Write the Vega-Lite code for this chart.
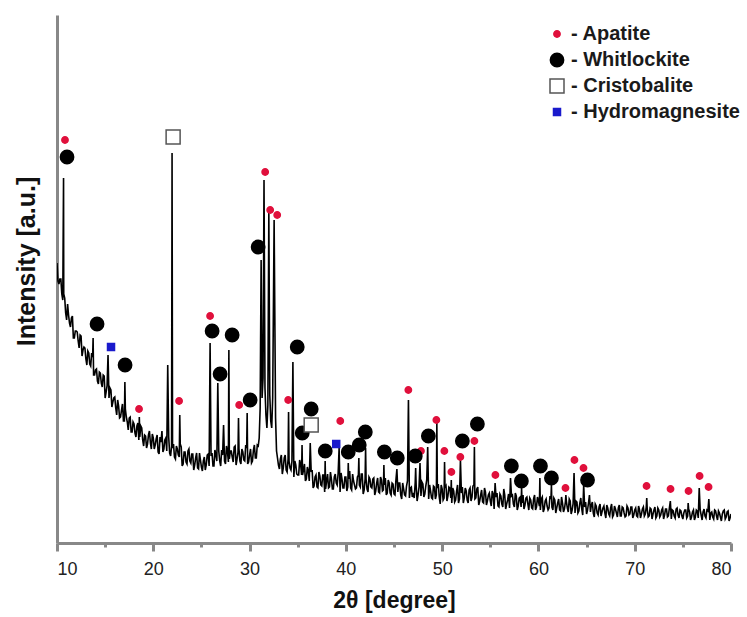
{
"$schema": "https://vega.github.io/schema/vega-lite/v6.json",
"width": 674, "height": 528,
"autosize": {"type": "none"},
"padding": {"left": 57, "top": 15, "right": 16, "bottom": 74},
"background": "white",
"config": {"view": {"stroke": null}, "font": "Liberation Sans", "axis": {"grid": false}},
"datasets": {
"trace": [
{"t":10,"i":280},{"t":10.2,"i":259},{"t":10.4,"i":264},{"t":10.6,"i":243},{"t":10.68,"i":365},{"t":10.8,"i":245},{"t":11,"i":223},{"t":11.2,"i":228},{"t":11.4,"i":216},{"t":11.6,"i":227},{"t":11.8,"i":205},{"t":12,"i":212},
{"t":12.2,"i":202},{"t":12.4,"i":208},{"t":12.6,"i":187},{"t":12.8,"i":196},{"t":13,"i":184},{"t":13.2,"i":192},{"t":13.4,"i":179},{"t":13.6,"i":190},{"t":13.75,"i":205},{"t":13.8,"i":168},{"t":14,"i":173},
{"t":14.2,"i":162},{"t":14.4,"i":171},{"t":14.6,"i":160},{"t":14.8,"i":168},{"t":15,"i":145},{"t":15.2,"i":157},{"t":15.3,"i":188},{"t":15.4,"i":145},{"t":15.6,"i":153},{"t":15.8,"i":141},{"t":16,"i":146},
{"t":16.2,"i":128},{"t":16.4,"i":137},{"t":16.6,"i":126},{"t":16.8,"i":139},{"t":17,"i":122},{"t":17.05,"i":161},{"t":17.2,"i":126},{"t":17.4,"i":113},{"t":17.6,"i":126},{"t":17.8,"i":111},{"t":18,"i":119},
{"t":18.2,"i":106},{"t":18.4,"i":120},{"t":18.55,"i":126},{"t":18.6,"i":106},{"t":18.8,"i":115},{"t":19,"i":97},{"t":19.2,"i":107},{"t":19.4,"i":99},{"t":19.6,"i":112},{"t":19.8,"i":94},{"t":20,"i":105},
{"t":20.2,"i":98},{"t":20.4,"i":108},{"t":20.6,"i":89},{"t":20.8,"i":101},{"t":20.9,"i":112},{"t":21,"i":91},{"t":21.2,"i":103},{"t":21.4,"i":92},{"t":21.5,"i":178},{"t":21.6,"i":106},{"t":21.8,"i":87},{"t":21.95,"i":390},{"t":22,"i":95},
{"t":22.2,"i":86},{"t":22.4,"i":97},{"t":22.6,"i":88},{"t":22.75,"i":128},{"t":22.8,"i":99},{"t":23,"i":77},{"t":23.2,"i":91},{"t":23.4,"i":81},{"t":23.6,"i":92},{"t":23.8,"i":82},{"t":24,"i":89},
{"t":24.2,"i":73},{"t":24.4,"i":85},{"t":24.6,"i":75},{"t":24.8,"i":90},{"t":25,"i":76},{"t":25.2,"i":82},{"t":25.4,"i":73},{"t":25.6,"i":88},{"t":25.8,"i":77},{"t":25.9,"i":200},{"t":26,"i":87},
{"t":26.2,"i":77},{"t":26.4,"i":93},{"t":26.6,"i":82},{"t":26.7,"i":160},{"t":26.8,"i":92},{"t":27,"i":77},{"t":27.2,"i":88},{"t":27.3,"i":118},{"t":27.4,"i":82},{"t":27.6,"i":97},{"t":27.8,"i":81},{"t":27.85,"i":193},{"t":28,"i":92},
{"t":28.2,"i":86},{"t":28.4,"i":96},{"t":28.6,"i":78},{"t":28.8,"i":91},{"t":28.85,"i":125},{"t":29,"i":82},{"t":29.2,"i":94},{"t":29.4,"i":83},{"t":29.6,"i":98},{"t":29.75,"i":130},{"t":29.8,"i":79},{"t":30,"i":88},
{"t":30.2,"i":80},{"t":30.4,"i":93},{"t":30.6,"i":85},{"t":30.8,"i":98},
{"t":31,"i":105},{"t":31.1,"i":135},{"t":31.2,"i":283},{"t":31.3,"i":145},{"t":31.4,"i":165},{"t":31.5,"i":363},{"t":31.6,"i":155},{"t":31.7,"i":128},{"t":31.8,"i":115},{"t":31.9,"i":138},{"t":32,"i":330},{"t":32.1,"i":148},{"t":32.2,"i":122},{"t":32.3,"i":115},{"t":32.4,"i":145},{"t":32.55,"i":323},{"t":32.7,"i":125},{"t":32.8,"i":92},{"t":33,"i":78},
{"t":33.2,"i":84},{"t":33.4,"i":69},{"t":33.6,"i":85},{"t":33.8,"i":73},{"t":34,"i":84},{"t":34.05,"i":131},{"t":34.2,"i":75},{"t":34.4,"i":82},{"t":34.5,"i":181},{"t":34.6,"i":66},{"t":34.8,"i":78},{"t":35,"i":68},
{"t":35.2,"i":83},{"t":35.4,"i":68},{"t":35.45,"i":98},{"t":35.6,"i":73},{"t":35.8,"i":62},{"t":36,"i":76},{"t":36.2,"i":62},{"t":36.3,"i":100},{"t":36.4,"i":71},{"t":36.6,"i":55},{"t":36.8,"i":66},{"t":37,"i":56},
{"t":37.2,"i":71},{"t":37.4,"i":58},{"t":37.6,"i":68},{"t":37.8,"i":51},{"t":37.85,"i":82},{"t":38,"i":62},{"t":38.2,"i":55},{"t":38.4,"i":71},{"t":38.6,"i":54},{"t":38.8,"i":66},{"t":39,"i":60},
{"t":39.2,"i":70},{"t":39.3,"i":95},{"t":39.4,"i":51},{"t":39.6,"i":64},{"t":39.8,"i":55},{"t":40,"i":66},{"t":40.2,"i":56},{"t":40.25,"i":80},{"t":40.4,"i":72},{"t":40.6,"i":53},{"t":40.8,"i":62},{"t":41,"i":54},
{"t":41.2,"i":66},{"t":41.35,"i":85},{"t":41.4,"i":58},{"t":41.6,"i":69},{"t":41.8,"i":49},{"t":42,"i":64},{"t":42.05,"i":95},{"t":42.2,"i":54},{"t":42.4,"i":66},{"t":42.6,"i":56},{"t":42.8,"i":64},{"t":43,"i":48},
{"t":43.2,"i":60},{"t":43.4,"i":51},{"t":43.6,"i":66},{"t":43.8,"i":52},{"t":43.95,"i":78},{"t":44,"i":58},{"t":44.2,"i":48},{"t":44.4,"i":63},{"t":44.6,"i":50},{"t":44.8,"i":60},{"t":45,"i":49},
{"t":45.2,"i":63},{"t":45.3,"i":74},{"t":45.4,"i":51},{"t":45.6,"i":60},{"t":45.8,"i":44},{"t":46,"i":54},{"t":46.2,"i":47},{"t":46.4,"i":62},{"t":46.5,"i":143},{"t":46.6,"i":45},{"t":46.8,"i":56},{"t":47,"i":50},
{"t":47.2,"i":60},{"t":47.25,"i":75},{"t":47.4,"i":42},{"t":47.6,"i":56},{"t":47.7,"i":80},{"t":47.8,"i":47},{"t":48,"i":59},{"t":48.2,"i":49},{"t":48.4,"i":63},{"t":48.5,"i":96},{"t":48.6,"i":44},{"t":48.8,"i":52},{"t":49,"i":44},
{"t":49.2,"i":56},{"t":49.4,"i":48},{"t":49.45,"i":120},{"t":49.6,"i":59},{"t":49.8,"i":39},{"t":50,"i":54},{"t":50.2,"i":45},{"t":50.25,"i":81},{"t":50.4,"i":57},{"t":50.6,"i":47},{"t":50.8,"i":55},{"t":50.95,"i":63},{"t":51,"i":40},
{"t":51.2,"i":52},{"t":51.4,"i":43},{"t":51.6,"i":58},{"t":51.8,"i":44},{"t":51.9,"i":83},{"t":52,"i":50},{"t":52.2,"i":40},{"t":52.4,"i":55},{"t":52.6,"i":43},{"t":52.8,"i":53},{"t":53,"i":42},
{"t":53.2,"i":57},{"t":53.35,"i":96},{"t":53.4,"i":44},{"t":53.6,"i":54},{"t":53.8,"i":38},{"t":54,"i":48},{"t":54.2,"i":41},{"t":54.4,"i":55},{"t":54.6,"i":38},{"t":54.8,"i":48},{"t":55,"i":42},
{"t":55.2,"i":52},{"t":55.4,"i":34},{"t":55.5,"i":60},{"t":55.6,"i":46},{"t":55.8,"i":37},{"t":56,"i":49},{"t":56.2,"i":39},{"t":56.4,"i":54},{"t":56.6,"i":34},{"t":56.8,"i":43},{"t":57,"i":35},{"t":57.1,"i":65},
{"t":57.2,"i":47},{"t":57.4,"i":39},{"t":57.6,"i":50},{"t":57.8,"i":33},{"t":58,"i":45},{"t":58.2,"i":36},{"t":58.25,"i":55},{"t":58.4,"i":48},{"t":58.6,"i":38},{"t":58.8,"i":46},{"t":59,"i":33},
{"t":59.2,"i":43},{"t":59.4,"i":34},{"t":59.6,"i":48},{"t":59.8,"i":36},{"t":60,"i":42},{"t":60.15,"i":65},{"t":60.2,"i":33},{"t":60.4,"i":46},{"t":60.6,"i":34},{"t":60.8,"i":44},{"t":61,"i":33},
{"t":61.2,"i":47},{"t":61.35,"i":58},{"t":61.4,"i":36},{"t":61.6,"i":45},{"t":61.8,"i":30},{"t":62,"i":40},{"t":62.2,"i":33},{"t":62.4,"i":46},{"t":62.6,"i":31},{"t":62.8,"i":41},{"t":62.85,"i":48},{"t":63,"i":35},
{"t":63.2,"i":44},{"t":63.4,"i":29},{"t":63.6,"i":39},{"t":63.7,"i":70},{"t":63.8,"i":30},{"t":64,"i":41},{"t":64.2,"i":32},{"t":64.4,"i":45},{"t":64.6,"i":28},{"t":64.7,"i":58},{"t":64.8,"i":36},{"t":65,"i":29},
{"t":65.2,"i":40},{"t":65.3,"i":48},{"t":65.4,"i":31},{"t":65.6,"i":41},{"t":65.8,"i":26},{"t":66,"i":37},{"t":66.2,"i":28},{"t":66.4,"i":39},{"t":66.6,"i":31},{"t":66.8,"i":37},{"t":67,"i":25},
{"t":67.2,"i":35},{"t":67.4,"i":27},{"t":67.6,"i":39},{"t":67.8,"i":28},{"t":68,"i":34},{"t":68.2,"i":26},{"t":68.4,"i":38},{"t":68.6,"i":27},{"t":68.8,"i":35},{"t":69,"i":26},
{"t":69.2,"i":37},{"t":69.4,"i":28},{"t":69.6,"i":36},{"t":69.8,"i":25},{"t":70,"i":33},{"t":70.2,"i":27},{"t":70.4,"i":37},{"t":70.6,"i":25},{"t":70.8,"i":34},{"t":71,"i":27},
{"t":71.2,"i":36},{"t":71.25,"i":45},{"t":71.4,"i":26},{"t":71.6,"i":35},{"t":71.8,"i":24},{"t":72,"i":33},{"t":72.2,"i":25},{"t":72.4,"i":35},{"t":72.6,"i":26},{"t":72.8,"i":33},{"t":73,"i":24},
{"t":73.2,"i":34},{"t":73.4,"i":26},{"t":73.6,"i":35},{"t":73.7,"i":42},{"t":73.8,"i":24},{"t":74,"i":32},{"t":74.2,"i":25},{"t":74.4,"i":35},{"t":74.6,"i":25},{"t":74.8,"i":32},{"t":75,"i":24},
{"t":75.2,"i":33},{"t":75.4,"i":25},{"t":75.55,"i":40},{"t":75.6,"i":34},{"t":75.8,"i":23},{"t":76,"i":31},{"t":76.2,"i":23},{"t":76.4,"i":33},{"t":76.6,"i":25},{"t":76.7,"i":55},{"t":76.8,"i":33},{"t":77,"i":23},
{"t":77.2,"i":34},{"t":77.4,"i":25},{"t":77.6,"i":32},{"t":77.7,"i":44},{"t":77.8,"i":23},{"t":78,"i":31},{"t":78.2,"i":24},{"t":78.4,"i":32},{"t":78.6,"i":23},{"t":78.8,"i":30},{"t":79,"i":22},
{"t":79.2,"i":32},{"t":79.4,"i":24},{"t":79.6,"i":31},{"t":79.8,"i":22},{"t":80,"i":29},
{"t":10.1,"i":262},{"t":10.3,"i":264},{"t":10.5,"i":249},{"t":10.7,"i":249},{"t":10.9,"i":230},{"t":11.1,"i":239},{"t":11.3,"i":220},{"t":11.5,"i":225},{"t":11.7,"i":205},{"t":11.9,"i":212},
{"t":12.1,"i":211},{"t":12.3,"i":195},{"t":12.5,"i":207},{"t":12.7,"i":193},{"t":12.9,"i":195},{"t":13.1,"i":178},{"t":13.3,"i":190},{"t":13.5,"i":177},{"t":13.7,"i":186},{"t":13.9,"i":168},
{"t":14.1,"i":174},{"t":14.3,"i":159},{"t":14.5,"i":170},{"t":14.7,"i":156},{"t":14.9,"i":167},{"t":15.1,"i":151},{"t":15.5,"i":155},{"t":15.7,"i":136},{"t":15.9,"i":145},
{"t":16.1,"i":135},{"t":16.3,"i":143},{"t":16.5,"i":125},{"t":16.7,"i":133},{"t":16.9,"i":122},{"t":17.1,"i":134},{"t":17.3,"i":121},{"t":17.5,"i":125},{"t":17.7,"i":111},{"t":17.9,"i":121},
{"t":18.1,"i":110},{"t":18.3,"i":117},{"t":18.5,"i":103},{"t":18.7,"i":117},{"t":18.9,"i":103},{"t":19.1,"i":108},{"t":19.3,"i":95},{"t":19.5,"i":108},{"t":19.7,"i":100},{"t":19.9,"i":109},
{"t":20.1,"i":94},{"t":20.3,"i":104},{"t":20.5,"i":91},{"t":20.7,"i":106},{"t":21.1,"i":94},{"t":21.3,"i":105},{"t":21.7,"i":90},{"t":21.9,"i":97},
{"t":22.1,"i":99},{"t":22.3,"i":84},{"t":22.5,"i":94},{"t":22.7,"i":86},{"t":22.9,"i":96},{"t":23.1,"i":79},{"t":23.3,"i":91},{"t":23.5,"i":79},{"t":23.7,"i":94},{"t":23.9,"i":80},
{"t":24.1,"i":89},{"t":24.3,"i":78},{"t":24.5,"i":90},{"t":24.7,"i":74},{"t":24.9,"i":83},{"t":25.1,"i":72},{"t":25.3,"i":86},{"t":25.5,"i":78},{"t":25.7,"i":89},
{"t":26.1,"i":90},{"t":26.3,"i":77},{"t":26.5,"i":88},{"t":26.9,"i":82},{"t":27.1,"i":93},{"t":27.5,"i":79},{"t":27.7,"i":92},{"t":27.9,"i":84},
{"t":28.1,"i":92},{"t":28.3,"i":81},{"t":28.5,"i":97},{"t":28.7,"i":84},{"t":28.9,"i":94},{"t":29.1,"i":79},{"t":29.3,"i":91},{"t":29.5,"i":82},{"t":29.7,"i":95},{"t":29.9,"i":81},
{"t":30.1,"i":94},{"t":30.3,"i":82},{"t":30.5,"i":98},{"t":30.7,"i":85},{"t":30.9,"i":97},{"t":32.9,"i":85},
{"t":33.1,"i":74},{"t":33.3,"i":88},{"t":33.5,"i":75},{"t":33.7,"i":88},{"t":33.9,"i":71},{"t":34.1,"i":82},{"t":34.3,"i":73},{"t":34.7,"i":82},{"t":34.9,"i":69},
{"t":35.1,"i":68},{"t":35.3,"i":79},{"t":35.5,"i":68},{"t":35.7,"i":79},{"t":35.9,"i":64},{"t":36.1,"i":72},{"t":36.5,"i":73},{"t":36.7,"i":57},{"t":36.9,"i":68},
{"t":37.1,"i":55},{"t":37.3,"i":67},{"t":37.5,"i":57},{"t":37.7,"i":68},{"t":37.9,"i":54},{"t":38.1,"i":69},{"t":38.3,"i":56},{"t":38.5,"i":64},{"t":38.7,"i":54},{"t":38.9,"i":69},
{"t":39.1,"i":58},{"t":39.5,"i":70},{"t":39.7,"i":55},{"t":39.9,"i":66},{"t":40.1,"i":52},{"t":40.3,"i":64},{"t":40.5,"i":55},{"t":40.7,"i":69},{"t":40.9,"i":58},
{"t":41.1,"i":55},{"t":41.3,"i":68},{"t":41.5,"i":56},{"t":41.7,"i":69},{"t":41.9,"i":53},{"t":42.1,"i":64},{"t":42.3,"i":51},{"t":42.5,"i":64},{"t":42.7,"i":55},{"t":42.9,"i":65},
{"t":43.1,"i":52},{"t":43.3,"i":65},{"t":43.5,"i":50},{"t":43.7,"i":63},{"t":43.9,"i":53},{"t":44.1,"i":65},{"t":44.3,"i":50},{"t":44.5,"i":60},{"t":44.7,"i":48},{"t":44.9,"i":59},
{"t":45.1,"i":48},{"t":45.5,"i":60},{"t":45.7,"i":48},{"t":45.9,"i":60},{"t":46.1,"i":48},{"t":46.3,"i":57},{"t":46.7,"i":55},{"t":46.9,"i":46},
{"t":47.1,"i":45},{"t":47.3,"i":58},{"t":47.5,"i":48},{"t":47.9,"i":61},{"t":48.1,"i":46},{"t":48.3,"i":57},{"t":48.7,"i":58},{"t":48.9,"i":45},
{"t":49.1,"i":57},{"t":49.3,"i":44},{"t":49.5,"i":55},{"t":49.7,"i":46},{"t":49.9,"i":58},{"t":50.1,"i":43},{"t":50.3,"i":55},{"t":50.5,"i":42},{"t":50.7,"i":56},{"t":50.9,"i":45},
{"t":51.1,"i":55},{"t":51.3,"i":41},{"t":51.5,"i":52},{"t":51.7,"i":40},{"t":52.1,"i":56},{"t":52.3,"i":45},{"t":52.5,"i":52},{"t":52.7,"i":40},{"t":52.9,"i":55},
{"t":53.1,"i":46},{"t":53.3,"i":58},{"t":53.5,"i":45},{"t":53.7,"i":56},{"t":53.9,"i":42},{"t":54.1,"i":53},{"t":54.3,"i":40},{"t":54.5,"i":51},{"t":54.7,"i":42},{"t":54.9,"i":50},
{"t":55.1,"i":37},{"t":55.3,"i":49},{"t":55.7,"i":50},{"t":55.9,"i":36},{"t":56.1,"i":47},{"t":56.3,"i":36},{"t":56.5,"i":48},{"t":56.7,"i":39},{"t":56.9,"i":49},
{"t":57.3,"i":48},{"t":57.5,"i":36},{"t":57.7,"i":47},{"t":57.9,"i":37},{"t":58.1,"i":46},{"t":58.3,"i":40},{"t":58.5,"i":34},{"t":58.7,"i":45},{"t":58.9,"i":39},
{"t":59.1,"i":45},{"t":59.3,"i":35},{"t":59.5,"i":44},{"t":59.7,"i":33},{"t":59.9,"i":46},{"t":60.1,"i":37},{"t":60.3,"i":44},{"t":60.5,"i":31},{"t":60.7,"i":42},{"t":60.9,"i":37},
{"t":61.1,"i":35},{"t":61.3,"i":44},{"t":61.5,"i":33},{"t":61.7,"i":43},{"t":61.9,"i":35},{"t":62.1,"i":44},{"t":62.3,"i":32},{"t":62.5,"i":40},{"t":62.7,"i":34},{"t":62.9,"i":42},
{"t":63.1,"i":31},{"t":63.3,"i":42},{"t":63.5,"i":33},{"t":63.9,"i":42},{"t":64.1,"i":30},{"t":64.3,"i":40},{"t":64.5,"i":34},{"t":64.9,"i":41},
{"t":65.1,"i":33},{"t":65.5,"i":38},{"t":65.7,"i":30},{"t":65.9,"i":39},{"t":66.1,"i":30},{"t":66.3,"i":36},{"t":66.5,"i":27},{"t":66.7,"i":35},{"t":66.9,"i":30},
{"t":67.1,"i":38},{"t":67.3,"i":29},{"t":67.5,"i":35},{"t":67.7,"i":26},{"t":67.9,"i":37},{"t":68.1,"i":30},{"t":68.3,"i":35},{"t":68.5,"i":27},{"t":68.7,"i":36},{"t":68.9,"i":30},
{"t":69.1,"i":27},{"t":69.3,"i":35},{"t":69.5,"i":29},{"t":69.7,"i":36},{"t":69.9,"i":28},{"t":70.1,"i":35},{"t":70.3,"i":26},{"t":70.5,"i":33},{"t":70.7,"i":29},{"t":70.9,"i":36},
{"t":71.1,"i":29},{"t":71.3,"i":34},{"t":71.5,"i":27},{"t":71.7,"i":34},{"t":71.9,"i":29},{"t":72.1,"i":36},{"t":72.3,"i":27},{"t":72.5,"i":33},{"t":72.7,"i":28},{"t":72.9,"i":35},
{"t":73.1,"i":28},{"t":73.3,"i":34},{"t":73.5,"i":27},{"t":73.9,"i":33},{"t":74.1,"i":27},{"t":74.3,"i":34},{"t":74.5,"i":28},{"t":74.7,"i":33},{"t":74.9,"i":27},
{"t":75.1,"i":30},{"t":75.3,"i":33},{"t":75.5,"i":27},{"t":75.7,"i":31},{"t":75.9,"i":26},{"t":76.1,"i":33},{"t":76.3,"i":26},{"t":76.5,"i":32},{"t":76.9,"i":28},
{"t":77.1,"i":31},{"t":77.3,"i":27},{"t":77.5,"i":33},{"t":77.9,"i":30},{"t":78.1,"i":26},{"t":78.3,"i":33},{"t":78.5,"i":27},{"t":78.7,"i":32},{"t":78.9,"i":26},
{"t":79.1,"i":29},{"t":79.3,"i":33},{"t":79.5,"i":26},{"t":79.7,"i":32},{"t":79.9,"i":25}
],
"marks": [
{"p":"Apatite","t":10.83,"i":403},{"p":"Apatite","t":18.52,"i":134},{"p":"Apatite","t":22.68,"i":142},{"p":"Apatite","t":25.9,"i":227},{"p":"Apatite","t":28.92,"i":138},{"p":"Apatite","t":31.62,"i":371},{"p":"Apatite","t":32.14,"i":333},{"p":"Apatite","t":32.87,"i":328},{"p":"Apatite","t":34.01,"i":143},{"p":"Apatite","t":39.42,"i":122},{"p":"Apatite","t":46.49,"i":153},{"p":"Apatite","t":47.8,"i":92},{"p":"Apatite","t":49.4,"i":123},{"p":"Apatite","t":50.23,"i":92},{"p":"Apatite","t":50.96,"i":71},{"p":"Apatite","t":51.89,"i":86},{"p":"Apatite","t":53.35,"i":102},{"p":"Apatite","t":55.53,"i":68},{"p":"Apatite","t":62.81,"i":55},{"p":"Apatite","t":63.74,"i":83},{"p":"Apatite","t":64.68,"i":75},{"p":"Apatite","t":71.23,"i":57},{"p":"Apatite","t":73.72,"i":54},{"p":"Apatite","t":75.59,"i":52},{"p":"Apatite","t":76.74,"i":67},{"p":"Apatite","t":77.67,"i":56},
{"p":"Whitlockite","t":11.04,"i":386},{"p":"Whitlockite","t":14.16,"i":219},{"p":"Whitlockite","t":17.07,"i":178},{"p":"Whitlockite","t":26.11,"i":212},{"p":"Whitlockite","t":26.94,"i":169},{"p":"Whitlockite","t":28.19,"i":208},{"p":"Whitlockite","t":30.06,"i":143},{"p":"Whitlockite","t":30.89,"i":296},{"p":"Whitlockite","t":34.95,"i":196},{"p":"Whitlockite","t":35.47,"i":110},{"p":"Whitlockite","t":36.4,"i":134},{"p":"Whitlockite","t":37.86,"i":92},{"p":"Whitlockite","t":40.25,"i":91},{"p":"Whitlockite","t":41.39,"i":98},{"p":"Whitlockite","t":42.02,"i":111},{"p":"Whitlockite","t":44.0,"i":91},{"p":"Whitlockite","t":45.34,"i":85},{"p":"Whitlockite","t":47.21,"i":87},{"p":"Whitlockite","t":48.57,"i":107},{"p":"Whitlockite","t":52.1,"i":102},{"p":"Whitlockite","t":53.66,"i":119},{"p":"Whitlockite","t":57.19,"i":77},{"p":"Whitlockite","t":58.23,"i":62},{"p":"Whitlockite","t":60.21,"i":77},{"p":"Whitlockite","t":61.35,"i":65},{"p":"Whitlockite","t":65.1,"i":63},
{"p":"Cristobalite","t":22.06,"i":406},{"p":"Cristobalite","t":36.4,"i":118},
{"p":"Hydromagnesite","t":15.61,"i":196},{"p":"Hydromagnesite","t":39.0,"i":99}
]
},
"layer": [
{
"data": {"name": "trace"},
"mark": {"type": "line", "color": "#000000", "strokeWidth": 1.6, "clip": true},
"encoding": {
"x": {"field": "t", "type": "quantitative",
"scale": {"domain": [10, 80], "nice": false, "zero": false},
"axis": {"values": [10,15,20,25,30,35,40,45,50,55,60,65,70,75,80],
"labelExpr": "datum.value % 10 === 0 ? datum.label : ''",
"tickSize": {"condition": {"test": "datum.value % 10 === 0", "value": 8}, "value": 4},
"tickWidth": 3, "tickColor": "#888888", "domainColor": "#888888", "domainWidth": 3,
"labelFont": "Liberation Sans", "labelFontSize": 18, "labelColor": "#222222", "labelPadding": 9,
"title": "2θ [degree]", "titleFont": "Liberation Sans", "titleFontSize": 23, "titleFontWeight": "bold", "titleColor": "#111111", "titlePadding": 11}},
"y": {"field": "i", "type": "quantitative",
"scale": {"domain": [0, 528], "nice": false},
"axis": {"labels": false, "ticks": false, "domainColor": "#888888", "domainWidth": 3,
"title": "Intensity [a.u.]", "titleFont": "Liberation Sans", "titleFontSize": 25, "titleFontWeight": "bold", "titleColor": "#111111",
"titleX": -31, "titleY": 246, "titleAngle": -90, "titleAlign": "center", "titleBaseline": "middle"}},
"order": {"field": "t", "type": "quantitative"}
}
},
{
"data": {"name": "marks"},
"mark": {"type": "point", "opacity": 1, "strokeWidth": 1.5},
"encoding": {
"x": {"field": "t", "type": "quantitative"},
"y": {"field": "i", "type": "quantitative"},
"shape": {"field": "p", "type": "nominal",
"scale": {"domain": ["Apatite","Whitlockite","Cristobalite","Hydromagnesite"], "range": ["circle","circle","square","square"]},
"legend": {"title": null, "orient": "none", "legendX": 490, "legendY": 9, "labelExpr": "'- ' + datum.label", "labelFont": "Liberation Sans", "labelFontSize": 20, "labelFontWeight": "bold", "labelColor": "#1a1a1a", "labelOffset": 4, "labelLimit": 400, "rowPadding": 6, "padding": 0, "symbolStrokeWidth": 1.5}},
"fill": {"field": "p", "type": "nominal",
"scale": {"domain": ["Apatite","Whitlockite","Cristobalite","Hydromagnesite"], "range": ["#e0103c","#000000","#ffffff","#1a1acc"]},
"legend": {"title": null, "orient": "none", "legendX": 490, "legendY": 9, "labelExpr": "'- ' + datum.label", "labelFont": "Liberation Sans", "labelFontSize": 20, "labelFontWeight": "bold", "labelColor": "#1a1a1a", "labelOffset": 4, "labelLimit": 400, "rowPadding": 6, "padding": 0, "symbolStrokeWidth": 1.5}},
"stroke": {"field": "p", "type": "nominal",
"scale": {"domain": ["Apatite","Whitlockite","Cristobalite","Hydromagnesite"], "range": ["#e0103c","#000000","#555555","#1a1acc"]},
"legend": {"title": null, "orient": "none", "legendX": 490, "legendY": 9, "labelExpr": "'- ' + datum.label", "labelFont": "Liberation Sans", "labelFontSize": 20, "labelFontWeight": "bold", "labelColor": "#1a1a1a", "labelOffset": 4, "labelLimit": 400, "rowPadding": 6, "padding": 0, "symbolStrokeWidth": 1.5}},
"size": {"field": "p", "type": "nominal",
"scale": {"type": "ordinal", "domain": ["Apatite","Whitlockite","Cristobalite","Hydromagnesite"], "range": [40, 177, 196, 49]},
"legend": {"title": null, "orient": "none", "legendX": 490, "legendY": 9, "labelExpr": "'- ' + datum.label", "labelFont": "Liberation Sans", "labelFontSize": 20, "labelFontWeight": "bold", "labelColor": "#1a1a1a", "labelOffset": 4, "labelLimit": 400, "rowPadding": 6, "padding": 0, "symbolStrokeWidth": 1.5}}
}
}
]
}
